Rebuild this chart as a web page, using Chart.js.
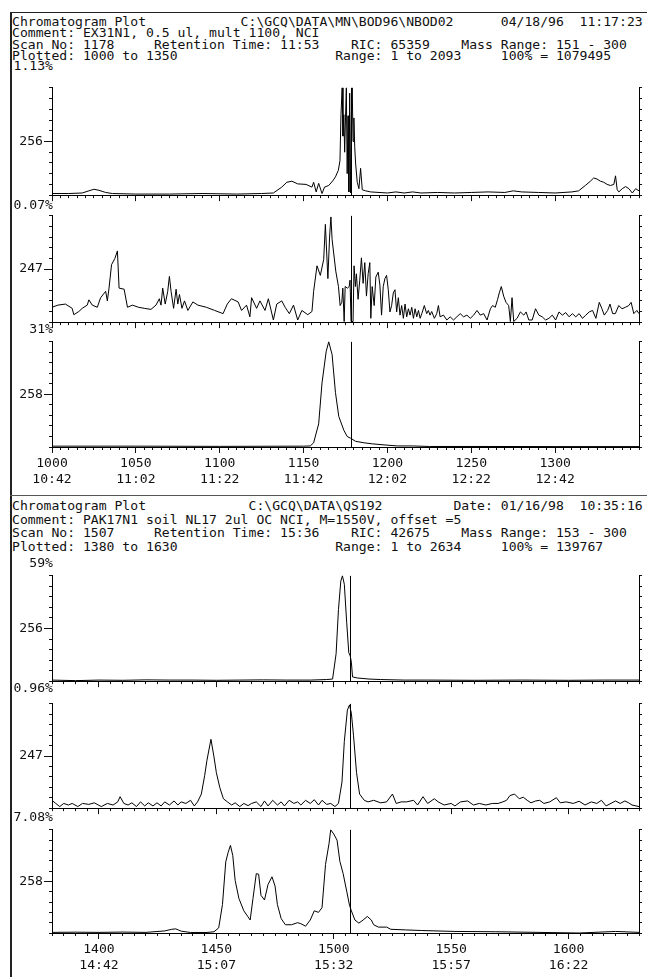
<!DOCTYPE html>
<html>
<head>
<meta charset="utf-8">
<script src="https://cdn.jsdelivr.net/npm/chart.js@4.4.0/dist/chart.umd.min.js"></script>
<style>
  html, body { margin: 0; padding: 0; background: #fff; }
  #page { position: relative; width: 647px; height: 977px; overflow: hidden; background: #fff;
          font-family: "DejaVu Sans Mono", monospace; font-size: 13.1px; color: #111; }
  .t { position: absolute; left: 12px; white-space: pre; line-height: 14px; }
  .pct { position: absolute; left: 0; width: 53px; text-align: right; white-space: pre; line-height: 14px; }
  .rule { position: absolute; background: #222; }
  canvas { position: absolute; left: 0; }
</style>
</head>
<body>
<div id="page">
  <div class="rule" style="left:10px;top:12px;width:2px;height:965px;"></div>
  <div class="rule" style="left:10px;top:12px;width:637px;height:1px;"></div>
  <div class="rule" style="left:10px;top:495px;width:637px;height:1px;background:#555;"></div>
</div>
<script>
// header text, laid out on an 80 column grid
const topHeader = [
  [[0, "Chromatogram Plot"], [29, "C:\\GCQ\\DATA\\MN\\BOD96\\NBOD02"], [62, "04/18/96"], [72, "11:17:23"]],
  [[0, "Comment: EX31N1, 0.5 ul, mult 1100, NCI"]],
  [[0, "Scan No: 1178"], [18, "Retention Time: 11:53"], [43, "RIC: 65359"], [57, "Mass Range: 151 - 300"]],
  [[0, "Plotted: 1000 to 1350"], [41, "Range: 1 to 2093"], [62, "100% = 1079495"]]
];
const bottomHeader = [
  [[0, "Chromatogram Plot"], [30, "C:\\GCQ\\DATA\\QS192"], [56, "Date: 01/16/98"], [72, "10:35:16"]],
  [[0, "Comment: PAK17N1 soil NL17 2ul OC NCI, M=1550V, offset =5"]],
  [[0, "Scan No: 1507"], [18, "Retention Time: 15:36"], [43, "RIC: 42675"], [57, "Mass Range: 153 - 300"]],
  [[0, "Plotted: 1380 to 1630"], [41, "Range: 1 to 2634"], [62, "100% = 139767"]]
];

// x axes
const topScanMin = 1000, topScanMax = 1350, topCursor = 1178;
const botScanMin = 1380, botScanMax = 1630, botCursor = 1507;
const topTickScans = [1000, 1050, 1100, 1150, 1200, 1250, 1300];
const topTickTimes = ["10:42", "11:02", "11:22", "11:42", "12:02", "12:22", "12:42"];
const botTickScans = [1400, 1450, 1500, 1550, 1600];
const botTickTimes = ["14:42", "15:07", "15:32", "15:57", "16:22"];

// ion traces: labels and scale percentages
const massLabels = ["256", "247", "258", "256", "247", "258"];
const pctLabels = ["1.13%", "0.07%", "31%", "59%", "0.96%", "7.08%"];

// [scan, % of panel max]
const p1 = [[1000,1.5],[1010,1.5],[1018,2],[1022,4],[1025,5.5],[1028,4.5],[1032,2.5],[1036,1.5],[1050,1],[1070,1],[1090,1.5],[1110,1],[1125,1.5],[1132,2],[1137,7.5],[1140,12],[1143,13],[1146.5,10.5],[1151.5,10],[1155,7.5],[1156,12],[1157.5,3],[1159,11],[1161,1.5],[1162.5,7.5],[1165,9],[1167.5,13.5],[1169,17],[1170.7,23],[1171.7,32],[1172.3,75],[1173,100],[1173.5,55],[1174,75],[1174.5,40],[1175,72],[1175.5,100],[1176,20],[1176.5,74],[1177,3],[1177.5,95],[1178,2],[1178.5,74],[1179,100],[1179.5,50],[1180,72],[1180.5,45],[1181,30],[1182,12],[1183,6],[1184,25],[1185,5],[1187,4],[1190,3],[1195,2.5],[1200,2],[1205,3],[1210,2],[1215,3],[1220,2],[1230,2.5],[1240,2],[1250,2.5],[1260,3],[1270,2.5],[1275,4],[1280,3],[1290,2.5],[1300,2],[1310,3],[1314,4],[1318,9],[1321,13],[1323,16],[1325,15],[1327,13],[1329,12],[1331,10],[1333,9],[1335,10],[1336,18],[1337,5],[1338,3],[1340,6],[1342,8],[1344,6],[1346,2],[1348,6],[1350,4]];

const p2 = [[1000,14],[1003.5,16],[1008,17],[1012,13],[1013,7],[1016,10],[1018,13],[1021,16],[1022,21],[1024,16],[1027,14],[1029,23],[1032,29],[1033,20],[1034,32],[1035.5,54],[1037.5,60],[1039,67],[1040,32],[1043,31],[1045,14],[1048,16],[1051.5,14],[1055,13],[1059,12],[1062,16],[1064,22],[1065,16],[1066,32],[1067.5,17],[1069,29],[1070,43],[1071,29],[1072.5,13],[1074,31],[1075,17],[1076,26],[1077.5,13],[1079,20],[1081,11],[1084,19],[1087,16],[1092,14],[1097,11],[1102,8],[1104.5,17],[1107,22],[1111,19],[1113,11],[1116,16],[1118,5],[1119,23],[1122,13],[1124,20],[1127,11],[1129,22],[1132,2],[1134,17],[1137,20],[1139,14],[1141.5,8],[1144,16],[1146.5,2],[1149,11],[1152.5,7],[1155,10],[1156,29],[1158,53],[1160,44],[1162,59],[1163,92],[1164.5,41],[1165.5,80],[1166.3,99],[1167,78],[1169.2,48],[1170.8,33.5],[1171.8,15.6],[1172.8,18.6],[1173.4,32],[1174.2,0.6],[1174.8,33.5],[1176.2,32],[1177.2,33.5],[1177.7,39.5],[1178.3,0.6],[1179.5,0.6],[1180.1,53],[1180.9,33.5],[1181.5,45.5],[1182.5,21.5],[1183.5,39.5],[1184.5,60.5],[1185.5,36.5],[1186.5,56],[1187.5,24.5],[1188.5,45.5],[1189.5,56],[1190.1,3.6],[1190.9,33.5],[1192.1,15.6],[1193.1,42.5],[1194.5,47],[1195.5,35],[1196.5,6.6],[1197.5,33.5],[1198.5,41],[1199.5,44],[1200.5,30.5],[1201.5,9.6],[1202.5,15.6],[1203.5,27.5],[1204.5,30.5],[1205.5,9.6],[1206.5,23],[1207.5,6.6],[1208.5,15.6],[1209.5,3.6],[1210.5,17],[1211.5,5],[1212.5,12.6],[1213.5,6.6],[1214.5,14],[1215.5,3.6],[1216.5,12.6],[1217.5,5],[1218.5,11],[1219.5,3.6],[1220.5,8],[1222,15.6],[1223.4,8],[1224.4,11],[1225.4,6.6],[1226.4,10],[1228,3.6],[1229.4,8],[1230.4,15.6],[1231.4,5],[1233.4,6.6],[1235.4,2],[1237.4,5],[1239.4,2],[1241.4,5],[1243.4,8],[1245.4,5],[1247.4,6.6],[1249.4,3.6],[1251.4,6.6],[1253.4,11],[1255.4,6.6],[1257.4,8],[1259.4,2],[1261.4,12.6],[1262.7,15.6],[1264.3,14],[1265.7,21.5],[1266.7,27.5],[1267.9,33.5],[1269.3,24.5],[1270.7,18.6],[1272.3,15.6],[1273.3,0.6],[1274.3,23],[1275.3,0.6],[1277.3,3.6],[1279.3,9.6],[1281.3,6.6],[1282.7,9.6],[1284.3,2],[1286.3,2],[1288.3,12.6],[1290.3,6.6],[1292.3,5],[1294.3,2],[1296.3,3.6],[1298.3,6.6],[1300.3,2],[1302.3,9.6],[1304.3,6.6],[1306.3,9],[1308.3,5],[1310.3,8],[1312.3,5],[1314.3,8],[1316.3,3.6],[1318.3,6.6],[1320.3,9.6],[1322.3,11],[1324.3,3.6],[1326.3,18.6],[1327.9,12.6],[1329.3,6.6],[1331.3,11],[1332.7,17],[1334.3,8],[1335.9,8],[1337.9,15.6],[1339.9,12.6],[1341.9,14],[1343.9,15.6],[1345.3,18.6],[1346.9,8],[1348.7,11],[1350,8]];

const p3 = [[1000,0.8],[1050,0.8],[1100,0.6],[1150,0.8],[1154,1],[1156,4],[1159,22],[1161,61],[1163.5,91],[1165,100],[1167,88],[1169,52],[1171,29],[1174,16],[1176,10],[1178,8.4],[1181,5.4],[1186,4],[1191,3],[1198,2],[1206,1],[1215,1],[1225,0.5],[1260,0.5],[1300,0.4],[1350,0.4]];

const p4 = [[1380,1],[1390,0.5],[1400,1],[1410,0.8],[1420,1.2],[1430,1],[1440,1],[1450,0.8],[1460,1],[1470,1.2],[1480,1],[1490,1],[1497,1.5],[1499.5,2],[1501,26],[1502,68],[1503,95],[1503.7,100],[1504.5,92],[1505.5,56],[1506.4,27],[1507,24],[1507.5,18],[1508,4],[1510,3],[1515,2],[1520,1.5],[1530,1],[1540,1],[1560,0.8],[1580,1],[1600,0.8],[1615,1],[1630,1]];

const p5 = [[1380,7.5],[1381.6,4.5],[1383.3,1.5],[1385,4.5],[1387,3],[1388.6,4.5],[1391,1.5],[1393,4.5],[1395.7,3.6],[1398,5.1],[1401,1.5],[1403.6,4.5],[1406,3],[1408,6],[1409,11],[1410.6,4.5],[1412.4,3],[1414,5.1],[1416,1.5],[1417.7,6],[1419.5,2.1],[1421,5.1],[1423,2.1],[1424.7,5.1],[1426.5,2.1],[1428,6],[1430,3],[1432,6.9],[1433.6,3],[1435,6],[1437,4.5],[1439,7.5],[1440.6,2.1],[1442,6],[1443.6,13.5],[1445,31],[1446,46],[1447.7,66],[1449,49],[1450,34],[1451.5,19.5],[1453,9],[1454.7,6],[1456.5,3],[1458,5.1],[1460,1.5],[1461.7,4.5],[1463.5,2.4],[1465,4.5],[1467,6],[1469,1.5],[1470.5,6.9],[1472,2.1],[1474,7.5],[1476,3],[1477.6,6],[1479,2.1],[1481,7.5],[1483,4.5],[1484.6,6],[1486,3],[1488,7.5],[1490,4.5],[1491.7,8.1],[1493.5,3],[1495,7.5],[1497,3.6],[1498.7,4.5],[1500.5,1.5],[1502,4.5],[1503.5,25],[1504.5,64],[1505.8,94],[1506.7,99],[1507.5,91],[1508.4,70],[1509.7,34],[1511,13.5],[1513,7.5],[1514.6,6],[1517,7.5],[1520,5.1],[1522.5,6],[1525,13.5],[1526.6,4.5],[1528.7,6],[1531,6],[1534,7.5],[1535.7,3],[1538,11],[1540,4.5],[1542.8,9],[1544.5,6],[1547,3],[1550,4.5],[1551.6,2.1],[1554,6],[1557,6.9],[1559.5,3],[1562,4.5],[1564.8,3],[1567.5,4.5],[1570,4.5],[1572,6],[1573.6,7.5],[1575,12],[1577,13.5],[1579,9],[1580.7,10.5],[1582.4,7.5],[1584,5.1],[1586,6.9],[1587.7,7.5],[1589.5,4.5],[1592,6],[1594.8,10],[1596.5,5.1],[1599,6],[1602,4.5],[1604.5,6.6],[1607,3],[1609.7,6],[1612,4.5],[1614,7.5],[1616,2.1],[1618.5,5.1],[1620,6.9],[1622,4.5],[1624,6.9],[1625.6,5.1],[1627,3],[1630,1.5]];

const p6 = [[1380,0.6],[1390,0.8],[1400,0.6],[1410,0.9],[1420,0.6],[1428,2],[1431,3.6],[1432.7,4],[1435,1.8],[1439,0.5],[1446,0.5],[1449,1.2],[1451,5],[1452.6,27.5],[1454,69],[1455,78],[1456,85],[1457,75],[1458,51],[1459.6,33.5],[1461.7,21.5],[1463.5,15.6],[1464.4,12.6],[1465.6,33.5],[1467,57.5],[1468,57],[1469,36.5],[1470.5,32],[1472,47],[1473.7,54.5],[1475,45.5],[1476,27.5],[1477.6,14],[1479.4,8],[1482,8],[1484.6,10],[1486,9],[1488,6.6],[1490,12.6],[1491.7,21.5],[1493.5,20],[1495,24.5],[1496.5,66.5],[1498,87],[1498.7,100],[1500,96],[1501.4,90],[1502.6,69.5],[1504,57.5],[1505.6,39.5],[1506.7,27],[1507.5,21.5],[1509,12.6],[1510.7,9.6],[1512.5,12.6],[1514.3,16],[1516,12.6],[1517,8],[1519,5.7],[1522.5,5.7],[1524.3,3.6],[1530.5,3],[1537.5,2.4],[1551.6,1.5],[1569,1.2],[1587,0.6],[1604.5,0],[1620,1.5],[1630,0.6]];

const page = document.getElementById("page");
const FONT = "DejaVu Sans Mono";
Chart.defaults.font.family = FONT;
Chart.defaults.font.size = 13.1;
Chart.defaults.color = "#111";

function addText(cls, y, text) {
  const d = document.createElement("div");
  d.className = cls;
  d.style.top = (y - 7) + "px";
  d.textContent = text;
  page.appendChild(d);
}

function headerLine(parts) {
  let s = "";
  parts.forEach(([col, txt]) => { s = s.padEnd(col, " ") + txt; });
  return s;
}

[21.5, 33, 44.5, 56].forEach((y, i) => addText("t", y, headerLine(topHeader[i])));
[506, 519.5, 533, 546.5].forEach((y, i) => addText("t", y, headerLine(bottomHeader[i])));

// draws the scan cursor through the panel
const cursorLine = {
  id: "cursorLine",
  afterDatasetsDraw(chart, args, opts) {
    const x = Math.round(chart.scales.x.getPixelForValue(opts.value)) + 0.5;
    const { top, bottom } = chart.chartArea;
    const ctx = chart.ctx;
    ctx.save();
    ctx.strokeStyle = "#000";
    ctx.lineWidth = 1;
    ctx.beginPath();
    ctx.moveTo(x, top);
    ctx.lineTo(x, bottom);
    ctx.stroke();
    ctx.restore();
  }
};

function steps(a, b, d) {
  const out = [];
  for (let v = a; v <= b + 1e-9; v += d) out.push({ value: v });
  return out;
}

function makePanel(p) {
  const xh = p.last ? 46 : 8;
  const h = p.bottom - p.top + 4 + xh;
  const cv = document.createElement("canvas");
  cv.width = 647;
  cv.height = h;
  cv.style.top = (p.top - 4) + "px";
  cv.style.width = "647px";
  cv.style.height = h + "px";
  page.appendChild(cv);

  const tickColor = "#111";
  new Chart(cv, {
    type: "line",
    data: {
      datasets: [{
        data: p.points.map(d => ({ x: d[0], y: d[1] })),
        borderColor: "#000",
        borderWidth: 1,
        pointRadius: 0,
        tension: 0,
        clip: false
      }]
    },
    options: {
      responsive: false,
      animation: false,
      events: [],
      layout: { padding: { top: 4, left: 0, right: 0, bottom: 0 } },
      plugins: {
        legend: { display: false },
        tooltip: { enabled: false },
        cursorLine: { value: p.cursor }
      },
      scales: {
        x: {
          type: "linear", position: "bottom", weight: 0, min: p.min, max: p.max,
          afterFit: s => { s.height = 0; },
          afterBuildTicks: s => { s.ticks = steps(p.min, p.max, 5); },
          ticks: { display: false },
          grid: { drawOnChartArea: false, tickLength: 3, color: tickColor },
          border: { color: "#000", width: 1 }
        },
        xMajor: {
          type: "linear", position: "bottom", weight: 1, min: p.min, max: p.max,
          afterFit: s => { s.height = xh; },
          afterBuildTicks: s => { s.ticks = p.tickScans.map(v => ({ value: v })); },
          ticks: {
            display: p.last, autoSkip: false, maxRotation: 0, padding: 3, color: "#111",
            callback: (v, i) => [String(p.tickScans[i]), p.tickTimes[i]]
          },
          grid: { drawOnChartArea: false, tickLength: 6, color: tickColor },
          border: { display: false }
        },
        y: {
          position: "left", weight: 0, min: 0, max: 100,
          afterFit: s => { s.width = 0; },
          afterBuildTicks: s => { s.ticks = steps(0, 100, 10); },
          ticks: { display: false },
          grid: { drawOnChartArea: false, tickLength: 3, color: tickColor },
          border: { color: "#000", width: 1 }
        },
        yLabel: {
          position: "left", weight: 1, min: 0, max: 100,
          afterFit: s => { s.width = 52; },
          afterBuildTicks: s => { s.ticks = [{ value: 50 }]; },
          ticks: { padding: 1, color: "#111", callback: () => p.mass },
          grid: { drawOnChartArea: false, tickLength: 8, color: tickColor },
          border: { display: false }
        },
        yRight: {
          position: "right", min: 0, max: 100,
          afterFit: s => { s.width = 8; },
          afterBuildTicks: s => { s.ticks = steps(0, 100, 10); },
          ticks: { display: false },
          grid: { drawOnChartArea: false, tickLength: 3, color: tickColor },
          border: { color: "#000", width: 1 }
        }
      }
    },
    plugins: [cursorLine]
  });
}

const traces = [p1, p2, p3, p4, p5, p6];
const geometry = [
  { top: 83, bottom: 196, pctY: 66 },
  { top: 211, bottom: 323, pctY: 205 },
  { top: 337, bottom: 447, pctY: 329 },
  { top: 571, bottom: 682, pctY: 563 },
  { top: 699, bottom: 809, pctY: 688 },
  { top: 825, bottom: 933, pctY: 817 }
];

geometry.forEach((g, i) => {
  const upper = i < 3;
  makePanel({
    top: g.top, bottom: g.bottom,
    points: traces[i],
    mass: massLabels[i],
    last: i === 2 || i === 5,
    min: upper ? topScanMin : botScanMin,
    max: upper ? topScanMax : botScanMax,
    cursor: upper ? topCursor : botCursor,
    tickScans: upper ? topTickScans : botTickScans,
    tickTimes: upper ? topTickTimes : botTickTimes
  });
  addText("pct", g.pctY, pctLabels[i]);
});
</script>
</body>
</html>
